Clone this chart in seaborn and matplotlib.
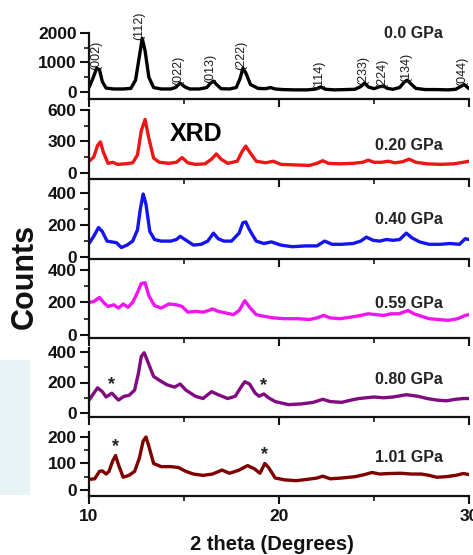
import numpy as np
import pandas as pd
import seaborn as sns
import matplotlib.pyplot as plt
from matplotlib.patches import Rectangle
from matplotlib.ticker import MultipleLocator, FixedLocator

# ---- XRD patterns under pressure (2 theta in degrees, intensity in counts) ----
tt_000 = [10.0, 10.2, 10.4, 10.55, 10.7, 10.9, 11.3, 11.8, 12.2, 12.45, 12.65, 12.8, 12.95, 13.15, 13.4,
          13.8, 14.3, 14.55, 14.8, 15.05, 15.3, 15.8, 16.2, 16.4, 16.55, 16.7, 16.95, 17.4, 17.75, 17.95,
          18.1, 18.25, 18.5, 18.9, 19.3, 19.55, 19.8, 20.2, 20.8, 21.5, 21.95, 22.2, 22.45, 22.9, 23.5,
          24.0, 24.3, 24.5, 24.7, 25.0, 25.3, 25.5, 25.7, 26.0, 26.35, 26.6, 26.75, 26.9, 27.2, 27.7,
          28.3, 28.9, 29.3, 29.55, 29.75, 30.0]
cnt_000 = [150, 450, 800, 760, 350, 130, 100, 100, 120, 400, 1200, 1820, 1400, 500, 150,
           100, 100, 150, 300, 170, 100, 100, 150, 300, 370, 260, 110, 100, 150, 450,
           800, 650, 250, 120, 110, 150, 100, 80, 70, 70, 100, 170, 90, 70, 80,
           90, 180, 300, 170, 110, 180, 200, 120, 90, 150, 340, 400, 300, 120, 80,
           80, 70, 90, 180, 250, 110]

tt_020 = [10.0, 10.25, 10.45, 10.6, 10.75, 11.0, 11.25, 11.5, 11.9, 12.3, 12.55, 12.75, 12.95, 13.15, 13.4,
          13.7, 14.2, 14.6, 14.9, 15.2, 15.6, 16.1, 16.45, 16.7, 16.95, 17.3, 17.8, 18.05, 18.25, 18.45,
          18.8, 19.3, 19.7, 20.1, 20.8, 21.6, 22.0, 22.3, 22.6, 23.2, 23.9, 24.4, 24.7, 25.0, 25.4,
          25.75, 26.1, 26.5, 26.85, 27.2, 27.8, 28.5, 29.2, 29.7, 30.0]
cnt_020 = [110, 150, 260, 295, 200, 90, 100, 80, 85, 95, 170, 400, 510, 330, 140,
           100, 90, 100, 145, 95, 80, 85, 130, 180, 130, 90, 110, 200, 255, 200,
           110, 95, 110, 80, 75, 70, 90, 115, 90, 85, 90, 100, 120, 100, 100,
           110, 95, 105, 130, 100, 85, 80, 85, 100, 110]

tt_040 = [10.0, 10.25, 10.5, 10.7, 10.95, 11.2, 11.45, 11.7, 12.0, 12.3, 12.55, 12.7, 12.85, 13.0, 13.2,
          13.45, 13.8, 14.3, 14.6, 14.8, 15.05, 15.5, 15.9, 16.25, 16.55, 16.8, 17.1, 17.5, 17.9, 18.1,
          18.25, 18.45, 18.8, 19.2, 19.6, 20.1, 20.7, 21.4, 22.0, 22.4, 22.8, 23.3, 23.9, 24.3, 24.6,
          24.95, 25.3, 25.65, 26.0, 26.35, 26.7, 27.0, 27.4, 27.9, 28.5, 29.0, 29.5, 29.8, 30.0]
cnt_040 = [85, 130, 185, 160, 100, 95, 90, 60, 75, 100, 170, 300, 395, 330, 160,
           110, 100, 100, 110, 130, 110, 75, 80, 100, 150, 115, 100, 100, 150, 215,
           220, 170, 100, 85, 95, 75, 65, 70, 70, 100, 80, 80, 85, 100, 125,
           105, 100, 110, 105, 110, 150, 120, 95, 80, 80, 85, 80, 115, 110]

tt_059 = [10.0, 10.25, 10.55, 10.8, 11.0, 11.3, 11.55, 11.8, 12.05, 12.3, 12.55, 12.75, 12.95, 13.15, 13.45,
          13.8, 14.2, 14.6, 14.9, 15.2, 15.6, 16.0, 16.3, 16.5, 16.8, 17.2, 17.6, 17.9, 18.2, 18.45,
          18.8, 19.2, 19.7, 20.3, 21.0, 21.6, 22.0, 22.35, 22.7, 23.2, 23.8, 24.3, 24.7, 25.1, 25.5,
          25.9, 26.3, 26.8, 27.1, 27.5, 27.9, 28.4, 28.9, 29.4, 29.8, 30.0]
cnt_059 = [200, 205, 230, 195, 175, 185, 165, 190, 170, 200, 260, 315, 320, 240, 180,
           165, 190, 185, 175, 140, 145, 140, 150, 160, 145, 135, 125, 150, 210, 170,
           125, 115, 105, 100, 100, 95, 105, 120, 105, 100, 110, 120, 130, 125, 120,
           130, 130, 150, 130, 115, 100, 95, 90, 100, 120, 125]

tt_080 = [10.0, 10.2, 10.45, 10.7, 10.9, 11.2, 11.55, 11.85, 12.1, 12.4, 12.6, 12.75, 12.9, 13.05, 13.4,
          13.7, 14.1, 14.5, 14.8, 15.1, 15.6, 16.0, 16.45, 16.8, 17.3, 17.7, 18.0, 18.2, 18.45, 18.75,
          18.95, 19.2, 19.45, 19.8, 20.5, 21.2, 21.8, 22.3, 22.7, 23.3, 23.8, 24.2, 24.6, 25.0, 25.5,
          26.0, 26.7, 27.3, 27.8, 28.3, 28.8, 29.3, 29.7, 30.0]
cnt_080 = [85, 120, 165, 140, 105, 130, 85, 110, 115, 150, 260, 370, 395, 350, 240,
           215, 185, 170, 190, 150, 110, 95, 140, 120, 95, 110, 170, 205, 190, 130,
           110, 125, 100, 75, 55, 60, 70, 90, 75, 70, 85, 95, 100, 105, 100,
           105, 120, 110, 95, 85, 80, 90, 95, 95]

tt_101 = [10.0, 10.3, 10.55, 10.7, 10.9, 11.05, 11.25, 11.4, 11.55, 11.8, 12.1, 12.4, 12.65, 12.85, 13.0,
          13.15, 13.4, 13.8, 14.3, 14.7, 15.1, 15.5, 16.0, 16.5, 17.0, 17.4, 17.9, 18.35, 18.7, 19.0,
          19.25, 19.45, 19.8, 20.3, 20.9, 21.5, 22.0, 22.3, 22.7, 23.3, 24.0, 24.5, 24.9, 25.3, 25.8,
          26.4, 27.0, 27.5, 27.9, 28.3, 28.8, 29.3, 29.7, 30.0]
cnt_101 = [40, 42, 70, 72, 60, 70, 110, 130, 95, 48, 55, 70, 120, 185, 200,
           165, 100, 88, 88, 85, 70, 60, 55, 60, 75, 63, 75, 92, 80, 63,
           100, 85, 45, 38, 35, 40, 45, 52, 42, 45, 50, 58, 66, 60, 62,
           63, 60, 60, 55, 48, 50, 55, 62, 58]

pressures = ["0.0 GPa", "0.20 GPa", "0.40 GPa", "0.59 GPa", "0.80 GPa", "1.01 GPa"]
series_tt = [tt_000, tt_020, tt_040, tt_059, tt_080, tt_101]
series_cnt = [cnt_000, cnt_020, cnt_040, cnt_059, cnt_080, cnt_101]
colors = ["#000000", "#f01414", "#1414f0", "#f014f0", "#800a80", "#800000"]

# y tick steps and limits for each pressure
y_major = [1000, 300, 200, 200, 200, 100]
y_limits = [(-240, 2000), (-60, 600), (-12, 470), (-18, 410), (-26, 426), (-23, 219)]

# Miller indices of the ambient-pressure reflections
hkl_labels = ["(002)", "(112)", "(022)", "(013)", "(222)", "(114)", "(233)", "(224)", "(134)", "(044)"]
hkl_tt = [10.4, 12.65, 14.7, 16.4, 18.0, 22.1, 24.45, 25.45, 26.7, 29.65]

# impurity reflections marked with asterisks: (panel index, 2 theta)
star_marks = [(4, 11.2), (4, 19.2), (5, 11.4), (5, 19.25)]

sns.set_theme(style="ticks")
plt.rcParams["font.family"] = ["Liberation Sans", "DejaVu Sans"]
plt.rcParams["font.weight"] = "bold"

W, H = 473, 555
fig = plt.figure(figsize=(W / 100, H / 100), dpi=100)
fig.patch.set_facecolor("white")
fig.patches.append(Rectangle((0, 1 - 495 / H), 30 / W, 135 / H, transform=fig.transFigure,
                             facecolor="#e8f3f6", edgecolor="none", zorder=0))

# panel extents in pixels (top, bottom)
boxes = [(33, 99), (110, 179), (182, 259), (268, 338), (348, 417), (432, 496)]
left_px, right_px = 89, 469

axes = []
for i, (top, bot) in enumerate(boxes):
    ax = fig.add_axes([left_px / W, 1 - bot / H, (right_px - left_px) / W, (bot - top) / H])
    ax.set_facecolor("none")
    df = pd.DataFrame({"two_theta": series_tt[i], "counts": series_cnt[i]})
    sns.lineplot(data=df, x="two_theta", y="counts", ax=ax, color=colors[i], lw=2.4,
                 estimator=None, sort=False, solid_joinstyle="round", solid_capstyle="round")
    ax.set_xlim(10, 30)
    ax.set_ylim(*y_limits[i])
    ax.yaxis.set_major_locator(FixedLocator([0, y_major[i], 2 * y_major[i]]))
    ax.yaxis.set_minor_locator(FixedLocator([y_major[i] / 2, 1.5 * y_major[i]]))
    ax.xaxis.set_major_locator(MultipleLocator(10))
    ax.xaxis.set_minor_locator(MultipleLocator(5))
    ax.tick_params(axis="y", which="major", direction="out", length=6.5, width=1.5,
                   labelsize=12.5, pad=2.5, colors="#111111")
    ax.tick_params(axis="y", which="minor", direction="out", length=3.5, width=1.3)
    ax.tick_params(axis="x", which="major", direction="out", length=5.5, width=1.5,
                   labelsize=12.5, pad=4, colors="#111111")
    ax.tick_params(axis="x", which="minor", direction="out", length=3.5, width=1.3)
    sns.despine(ax=ax)
    for s in ("left", "bottom"):
        ax.spines[s].set_linewidth(1.6)
        ax.spines[s].set_color("#111111")
    ax.set_xlabel("")
    ax.set_ylabel("")
    if i < len(boxes) - 1:
        ax.set_xticklabels([])
    axes.append(ax)

# Miller index labels over the 0.0 GPa reflections
tt0 = np.array(tt_000)
c0 = np.array(cnt_000)
for lab, x in zip(hkl_labels, hkl_tt):
    near = np.abs(tt0 - x) <= 0.3
    y = c0[near].max()
    axes[0].text(x, y - 60, lab, rotation=90, ha="center", va="bottom", fontsize=9,
                 fontweight="normal", color="#1a1a1a")

# asterisks above the impurity peaks
for pi, x in star_marks:
    tt = np.array(series_tt[pi])
    cc = np.array(series_cnt[pi])
    y = cc[np.abs(tt - x) <= 0.2].max()
    axes[pi].annotate("*", (x, y), xytext=(0, 0), textcoords="offset points",
                      ha="center", va="bottom", fontsize=13, color="#222222")

# pressure labels
gpa_y = [33, 145, 220, 303, 380, 458]
for lab, yp in zip(pressures, gpa_y):
    fig.text(443 / W, 1 - yp / H, lab, ha="right", va="center", fontsize=11.5,
             fontweight="bold", color="#222222")

fig.text(196 / W, 1 - 134 / H, "XRD", ha="center", va="center", fontsize=18,
         fontweight="bold", color="black")
fig.text(25 / W, 1 - 276 / H, "Counts", rotation=90, ha="center", va="center",
         fontsize=22, fontweight="bold", color="#111111")
fig.text(272 / W, 1 - 545 / H, "2 theta (Degrees)", ha="center", va="center",
         fontsize=14.5, fontweight="bold", color="#111111")

fig.savefig("out.png", dpi=100)
